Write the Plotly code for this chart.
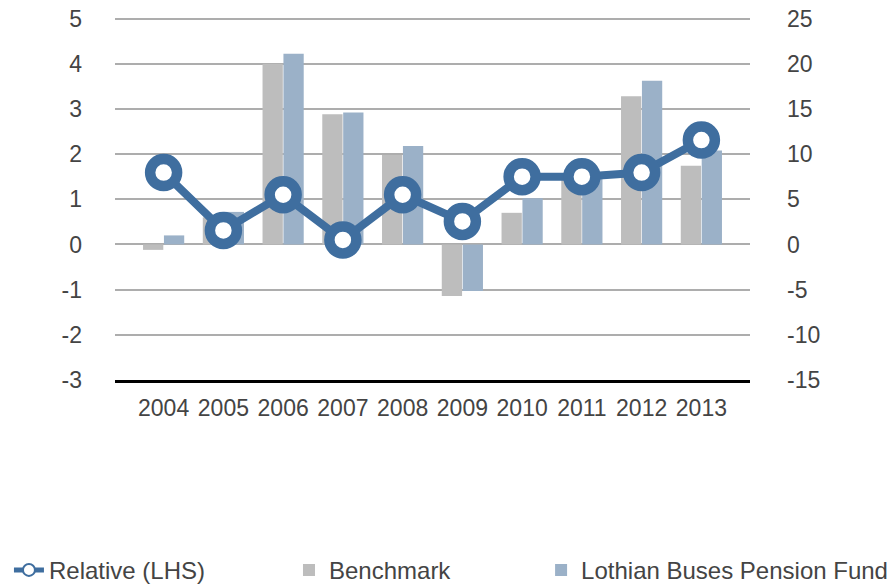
import plotly.graph_objects as go

years = ["2004", "2005", "2006", "2007", "2008", "2009", "2010", "2011", "2012", "2013"]
benchmark = [-0.6, 3.0, 20.0, 14.4, 9.9, -5.7, 3.5, 7.2, 16.4, 8.7]
fund = [1.0, 3.6, 21.1, 14.6, 10.9, -5.15, 5.1, 7.6, 18.1, 10.4]
relative = [1.59, 0.31, 1.10, 0.10, 1.10, 0.51, 1.50, 1.50, 1.59, 2.31]

left_ticks = [-3, -2, -1, 0, 1, 2, 3, 4, 5]
right_ticks = [-15, -10, -5, 0, 5, 10, 15, 20, 25]

FONT = "Liberation Sans, Arial, sans-serif"
TXT = "#444444"
LINE_C = "#3F6E9F"
FS = 23

fig = go.Figure()
fig.add_trace(go.Scatter(x=years, y=relative, name="Relative (LHS)", mode="lines+markers",
                         line=dict(color=LINE_C, width=8),
                         marker=dict(size=27, color="white", line=dict(color=LINE_C, width=10.5)),
                         yaxis="y2", legend="legend"))
fig.add_trace(go.Bar(x=years, y=benchmark, name="Benchmark", marker_color="#BDBDBD",
                     marker_line_width=0, yaxis="y", legend="legend2"))
fig.add_trace(go.Bar(x=years, y=fund, name="Lothian Buses Pension Fund", marker_color="#9BB1C8",
                     marker_line_width=0, yaxis="y", legend="legend3"))

leg_common = dict(orientation="h", yanchor="middle", xanchor="left", itemsizing="constant",
                  font=dict(family=FONT, size=24, color=TXT), bgcolor="rgba(0,0,0,0)")

fig.update_layout(
    width=893, height=587,
    margin=dict(l=115, r=143, t=13.5, b=207, autoexpand=False),
    paper_bgcolor="white", plot_bgcolor="white",
    showlegend=True,
    barmode="group", bargap=0.3, bargroupgap=0.03,
    font=dict(family=FONT, size=FS, color=TXT),
    xaxis=dict(showline=True, linecolor="black", linewidth=3, ticks="",
               tickfont=dict(size=FS, color=TXT), showgrid=False, ticklabelstandoff=5),
    yaxis=dict(side="right", range=[-15, 25.5], tickvals=right_ticks,
               ticktext=[str(v) for v in right_ticks], showgrid=True,
               gridcolor="#ADADAD", gridwidth=2, zeroline=False, ticks="",
               ticklabelstandoff=36, ticklabeloverflow="allow",
               tickfont=dict(size=FS, color=TXT)),
    yaxis2=dict(overlaying="y", side="left", range=[-3, 5.1], tickvals=left_ticks,
                ticktext=[str(v) for v in left_ticks],
                showgrid=False, zeroline=False, ticks="", ticklabelstandoff=32,
                ticklabeloverflow="allow", tickfont=dict(size=FS, color=TXT)),
    legend=dict(x=-0.167, y=-0.52, **leg_common),
    legend2=dict(x=0.274, y=-0.52, **leg_common),
    legend3=dict(x=0.671, y=-0.52, **leg_common),
)

fig.write_html("out.html", config={"displayModeBar": False},
               post_script="document.body.style.margin='0';document.body.style.overflow='hidden';")
